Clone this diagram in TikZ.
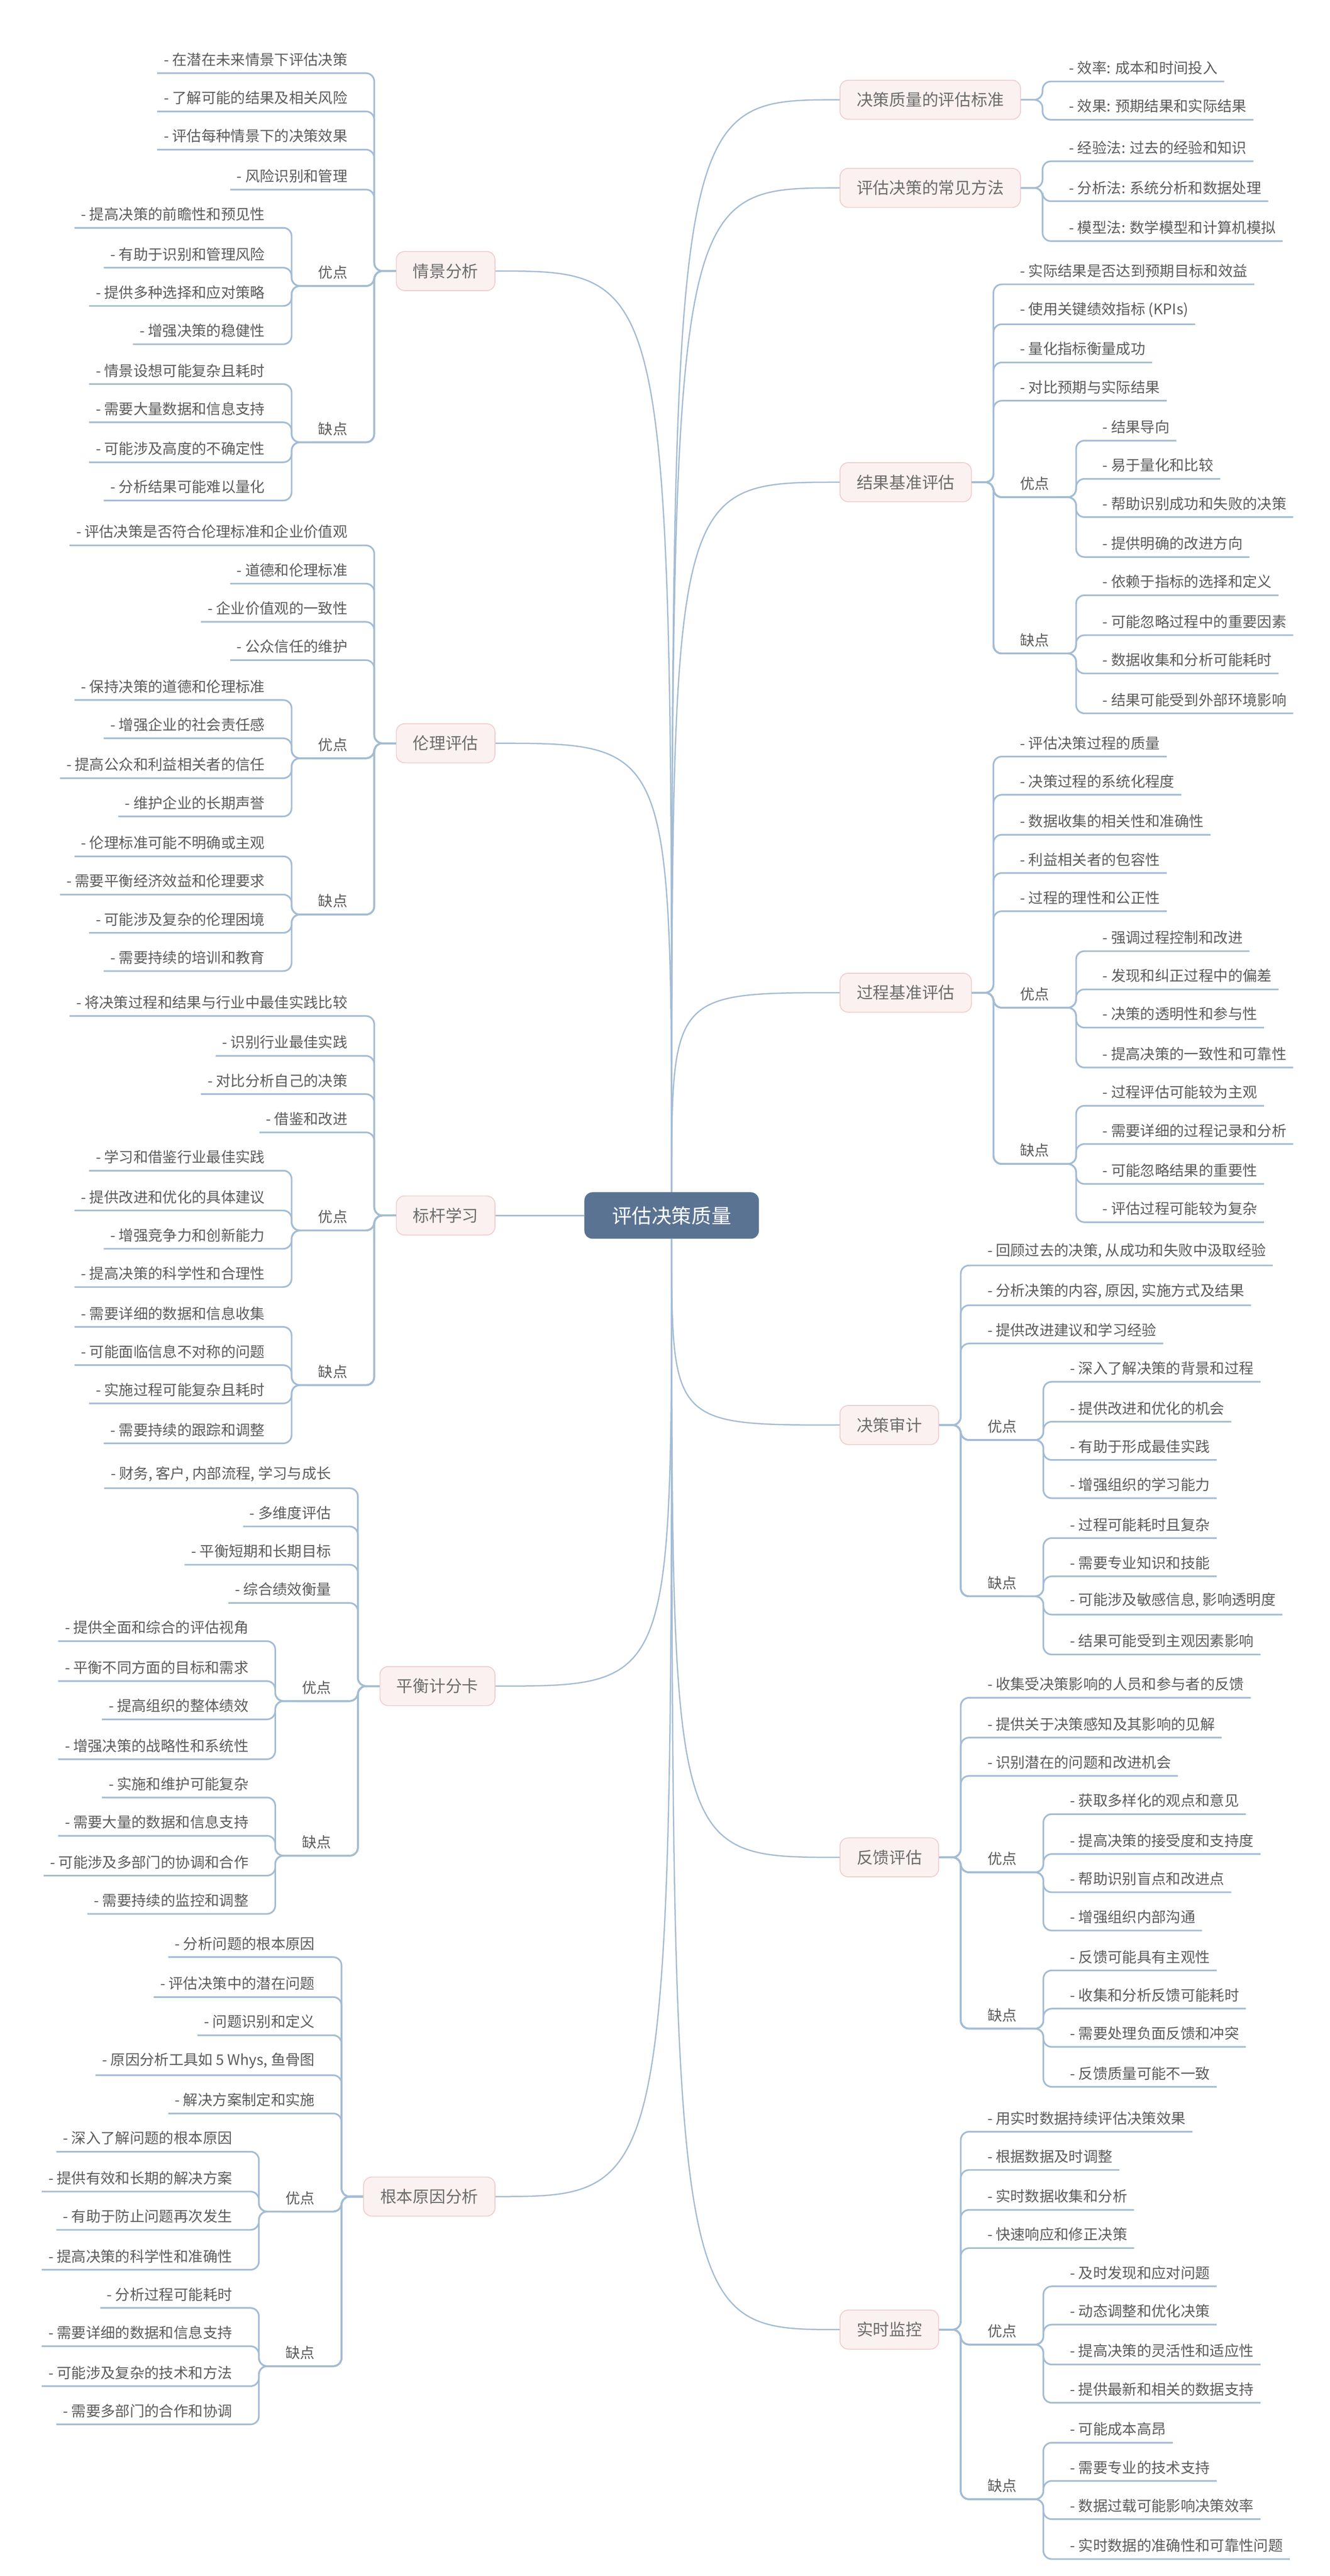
\documentclass[tikz,border=0pt]{standalone}
\usepackage{fontspec}
\setmainfont{Noto Sans CJK SC}
\usetikzlibrary{calc}
\definecolor{ln}{HTML}{A3BCD4}
\definecolor{tx}{HTML}{5C5C5C}
\definecolor{mfill}{HTML}{FCF1F1}
\definecolor{mdraw}{HTML}{F0CCCC}
\definecolor{rfill}{HTML}{5B7393}
\tikzset{
 leaf/.style={inner xsep=0.4cm,inner ysep=0.4cm,text=tx,font=\fontsize{25}{30}\selectfont},
 mainbox/.style={draw=mdraw,fill=mfill,line width=1.5pt,rounded corners=0.5cm,inner xsep=1cm,minimum height=2.35cm,text=tx!90,font=\fontsize{28}{33}\selectfont},
 rootbox/.style={fill=rfill,rounded corners=0.5cm,minimum width=10.5cm,minimum height=2.8cm,text=white,font=\fontsize{34}{40}\selectfont},
 conn/.style={draw=ln,line width=2.8pt,rounded corners=0.5cm},
 rconn/.style={draw=ln,line width=2.2pt},
}
% right side
\newcommand\MR[4]{\node[mainbox,anchor=west] (#1) at (505,#2) {#3};
 \coordinate (#1-b) at ($(#1.east)+(13,0)$);
 \draw[rconn] (root.#4) .. controls (root.#4 |- #1.west) .. (#1.west);
 \def\cm{#1}\def\cmy{#2}}
\newcommand\RL[3]{\node[leaf,anchor=south west] (#1) at ($(\cm-b)+(12,#2+9-\cmy)$) {#3};
 \draw[conn] (\cm.east) -- (\cm-b) |- (#1.south east);}
\newcommand\RS[3]{\RL{#1}{#2}{#3}\coordinate (#1-s) at ($(#1.south east)+(12,0)$);\def\cs{#1}\def\csy{#2}}
\newcommand\RSL[3]{\node[leaf,anchor=south west] (#1) at ($(\cs-s)+(12,#2-\csy)$) {#3};
 \draw[conn] (\cm.east) -- (\cm-b) |- (\cs-s) |- (#1.south east);}
% left side
\newcommand\ML[4]{\node[mainbox,anchor=east] (#1) at (298,#2) {#3};
 \coordinate (#1-b) at ($(#1.west)+(-13,0)$);
 \draw[rconn] (root.#4) .. controls (root.#4 |- #1.east) .. (#1.east);
 \def\cm{#1}\def\cmy{#2}}
\newcommand\LL[3]{\node[leaf,anchor=south east] (#1) at ($(\cm-b)+(-12,#2+9-\cmy)$) {#3};
 \draw[conn] (\cm.west) -- (\cm-b) |- (#1.south west);}
\newcommand\LS[3]{\LL{#1}{#2}{#3}\coordinate (#1-s) at ($(#1.south west)+(-12,0)$);\def\cs{#1}\def\csy{#2}}
\newcommand\LSL[3]{\node[leaf,anchor=south east] (#1) at ($(\cs-s)+(-12,#2-\csy)$) {#3};
 \draw[conn] (\cm.west) -- (\cm-b) |- (\cs-s) |- (#1.south west);}
\begin{document}
\begin{tikzpicture}[x=0.1cm,y=-0.1cm]
\useasboundingbox[fill=white] (0,0) rectangle (800,1549.2);
\node[rootbox] (root) at (404,731) {评估决策质量};

\MR{a}{60}{决策质量的评估标准}{north}
\RL{a1}{40}{- 效率: 成本和时间投入}
\RL{a2}{63}{- 效果: 预期结果和实际结果}

\MR{b}{113}{评估决策的常见方法}{north}
\RL{b1}{88}{- 经验法: 过去的经验和知识}
\RL{b2}{112}{- 分析法: 系统分析和数据处理}
\RL{b3}{136}{- 模型法: 数学模型和计算机模拟}

\MR{c}{290}{结果基准评估}{north}
\RL{c1}{162}{- 实际结果是否达到预期目标和效益}
\RL{c2}{186}{- 使用关键绩效指标 (KPIs)}
\RL{c3}{209}{- 量化指标衡量成功}
\RL{c4}{232}{- 对比预期与实际结果}
\RS{cy}{290}{优点}
\RSL{cy1}{256}{- 结果导向}
\RSL{cy2}{279}{- 易于量化和比较}
\RSL{cy3}{302}{- 帮助识别成功和失败的决策}
\RSL{cy4}{326}{- 提供明确的改进方向}
\RS{cq}{384}{缺点}
\RSL{cq1}{349}{- 依赖于指标的选择和定义}
\RSL{cq2}{373}{- 可能忽略过程中的重要因素}
\RSL{cq3}{396}{- 数据收集和分析可能耗时}
\RSL{cq4}{420}{- 结果可能受到外部环境影响}

\MR{d}{597}{过程基准评估}{north}
\RL{d1}{446}{- 评估决策过程的质量}
\RL{d2}{469}{- 决策过程的系统化程度}
\RL{d3}{493}{- 数据收集的相关性和准确性}
\RL{d4}{516}{- 利益相关者的包容性}
\RL{d5}{539}{- 过程的理性和公正性}
\RS{dy}{597}{优点}
\RSL{dy1}{563}{- 强调过程控制和改进}
\RSL{dy2}{586}{- 发现和纠正过程中的偏差}
\RSL{dy3}{609}{- 决策的透明性和参与性}
\RSL{dy4}{633}{- 提高决策的一致性和可靠性}
\RS{dq}{691}{缺点}
\RSL{dq1}{656}{- 过程评估可能较为主观}
\RSL{dq2}{679}{- 需要详细的过程记录和分析}
\RSL{dq3}{703}{- 可能忽略结果的重要性}
\RSL{dq4}{726}{- 评估过程可能较为复杂}

\MR{e}{857}{决策审计}{south}
\RL{e1}{752}{- 回顾过去的决策, 从成功和失败中汲取经验}
\RL{e2}{776}{- 分析决策的内容, 原因, 实施方式及结果}
\RL{e3}{799}{- 提供改进建议和学习经验}
\RS{ey}{857}{优点}
\RSL{ey1}{822}{- 深入了解决策的背景和过程}
\RSL{ey2}{846}{- 提供改进和优化的机会}
\RSL{ey3}{869}{- 有助于形成最佳实践}
\RSL{ey4}{892}{- 增强组织的学习能力}
\RS{eq}{951}{缺点}
\RSL{eq1}{916}{- 过程可能耗时且复杂}
\RSL{eq2}{939}{- 需要专业知识和技能}
\RSL{eq3}{962}{- 可能涉及敏感信息, 影响透明度}
\RSL{eq4}{986}{- 结果可能受到主观因素影响}

\MR{f}{1117}{反馈评估}{south}
\RL{f1}{1012}{- 收集受决策影响的人员和参与者的反馈}
\RL{f2}{1036}{- 提供关于决策感知及其影响的见解}
\RL{f3}{1059}{- 识别潜在的问题和改进机会}
\RS{fy}{1117}{优点}
\RSL{fy1}{1082}{- 获取多样化的观点和意见}
\RSL{fy2}{1106}{- 提高决策的接受度和支持度}
\RSL{fy3}{1129}{- 帮助识别盲点和改进点}
\RSL{fy4}{1152}{- 增强组织内部沟通}
\RS{fq}{1211}{缺点}
\RSL{fq1}{1176}{- 反馈可能具有主观性}
\RSL{fq2}{1199}{- 收集和分析反馈可能耗时}
\RSL{fq3}{1222}{- 需要处理负面反馈和冲突}
\RSL{fq4}{1246}{- 反馈质量可能不一致}

\MR{g}{1401}{实时监控}{south}
\RL{g1}{1273}{- 用实时数据持续评估决策效果}
\RL{g2}{1296}{- 根据数据及时调整}
\RL{g3}{1320}{- 实时数据收集和分析}
\RL{g4}{1343}{- 快速响应和修正决策}
\RS{gy}{1401}{优点}
\RSL{gy1}{1366}{- 及时发现和应对问题}
\RSL{gy2}{1389}{- 动态调整和优化决策}
\RSL{gy3}{1413}{- 提高决策的灵活性和适应性}
\RSL{gy4}{1436}{- 提供最新和相关的数据支持}
\RS{gq}{1494}{缺点}
\RSL{gq1}{1460}{- 可能成本高昂}
\RSL{gq2}{1483}{- 需要专业的技术支持}
\RSL{gq3}{1506}{- 数据过载可能影响决策效率}
\RSL{gq4}{1530}{- 实时数据的准确性和可靠性问题}

% left
\ML{h}{163}{情景分析}{north}
\LL{h1}{35}{- 在潜在未来情景下评估决策}
\LL{h2}{58}{- 了解可能的结果及相关风险}
\LL{h3}{81}{- 评估每种情景下的决策效果}
\LL{h4}{105}{- 风险识别和管理}
\LS{hy}{163}{优点}
\LSL{hy1}{128}{- 提高决策的前瞻性和预见性}
\LSL{hy2}{152}{- 有助于识别和管理风险}
\LSL{hy3}{175}{- 提供多种选择和应对策略}
\LSL{hy4}{198}{- 增强决策的稳健性}
\LS{hq}{257}{缺点}
\LSL{hq1}{222}{- 情景设想可能复杂且耗时}
\LSL{hq2}{245}{- 需要大量数据和信息支持}
\LSL{hq3}{269}{- 可能涉及高度的不确定性}
\LSL{hq4}{292}{- 分析结果可能难以量化}

\ML{i}{447}{伦理评估}{north}
\LL{i1}{319}{- 评估决策是否符合伦理标准和企业价值观}
\LL{i2}{342}{- 道德和伦理标准}
\LL{i3}{365}{- 企业价值观的一致性}
\LL{i4}{388}{- 公众信任的维护}
\LS{iy}{447}{优点}
\LSL{iy1}{412}{- 保持决策的道德和伦理标准}
\LSL{iy2}{435}{- 增强企业的社会责任感}
\LSL{iy3}{459}{- 提高公众和利益相关者的信任}
\LSL{iy4}{482}{- 维护企业的长期声誉}
\LS{iq}{541}{缺点}
\LSL{iq1}{506}{- 伦理标准可能不明确或主观}
\LSL{iq2}{529}{- 需要平衡经济效益和伦理要求}
\LSL{iq3}{552}{- 可能涉及复杂的伦理困境}
\LSL{iq4}{575}{- 需要持续的培训和教育}

\node[mainbox,anchor=east] (j) at (298,731) {标杆学习};
\coordinate (j-b) at ($(j.west)+(-13,0)$);
\draw[rconn] (root.west) -- (j.east);
\def\cm{j}\def\cmy{731}
\LL{j1}{602}{- 将决策过程和结果与行业中最佳实践比较}
\LL{j2}{626}{- 识别行业最佳实践}
\LL{j3}{649}{- 对比分析自己的决策}
\LL{j4}{672}{- 借鉴和改进}
\LS{jy}{731}{优点}
\LSL{jy1}{695}{- 学习和借鉴行业最佳实践}
\LSL{jy2}{719}{- 提供改进和优化的具体建议}
\LSL{jy3}{742}{- 增强竞争力和创新能力}
\LSL{jy4}{765}{- 提高决策的科学性和合理性}
\LS{jq}{824}{缺点}
\LSL{jq1}{789}{- 需要详细的数据和信息收集}
\LSL{jq2}{812}{- 可能面临信息不对称的问题}
\LSL{jq3}{835}{- 实施过程可能复杂且耗时}
\LSL{jq4}{859}{- 需要持续的跟踪和调整}

\ML{k}{1014}{平衡计分卡}{south}
\LL{k1}{886}{- 财务, 客户, 内部流程, 学习与成长}
\LL{k2}{909}{- 多维度评估}
\LL{k3}{932}{- 平衡短期和长期目标}
\LL{k4}{955}{- 综合绩效衡量}
\LS{ky}{1014}{优点}
\LSL{ky1}{978}{- 提供全面和综合的评估视角}
\LSL{ky2}{1002}{- 平衡不同方面的目标和需求}
\LSL{ky3}{1025}{- 提高组织的整体绩效}
\LSL{ky4}{1049}{- 增强决策的战略性和系统性}
\LS{kq}{1107}{缺点}
\LSL{kq1}{1072}{- 实施和维护可能复杂}
\LSL{kq2}{1095}{- 需要大量的数据和信息支持}
\LSL{kq3}{1119}{- 可能涉及多部门的协调和合作}
\LSL{kq4}{1142}{- 需要持续的监控和调整}

\ML{l}{1321}{根本原因分析}{south}
\LL{l1}{1168}{- 分析问题的根本原因}
\LL{l2}{1192}{- 评估决策中的潜在问题}
\LL{l3}{1215}{- 问题识别和定义}
\LL{l4}{1239}{- 原因分析工具如 5 Whys, 鱼骨图}
\LL{l5}{1262}{- 解决方案制定和实施}
\LS{ly}{1321}{优点}
\LSL{ly1}{1285}{- 深入了解问题的根本原因}
\LSL{ly2}{1309}{- 提供有效和长期的解决方案}
\LSL{ly3}{1332}{- 有助于防止问题再次发生}
\LSL{ly4}{1356}{- 提高决策的科学性和准确性}
\LS{lq}{1414}{缺点}
\LSL{lq1}{1379}{- 分析过程可能耗时}
\LSL{lq2}{1402}{- 需要详细的数据和信息支持}
\LSL{lq3}{1426}{- 可能涉及复杂的技术和方法}
\LSL{lq4}{1449}{- 需要多部门的合作和协调}
\end{tikzpicture}
\end{document}
